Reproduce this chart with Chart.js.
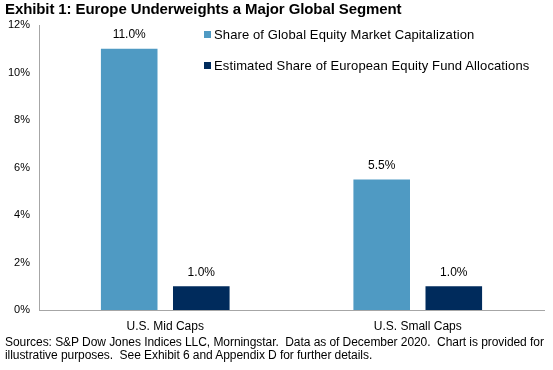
<!DOCTYPE html>
<html>
<head>
<meta charset="utf-8">
<script src="https://cdn.jsdelivr.net/npm/chart.js"></script>
<style>
  body { margin: 0; background: #fff; }
  #wrap { position: relative; width: 553px; height: 370px; font-family: "Liberation Sans", Arial, sans-serif; color: #000; }
  #chart { position: absolute; left: 0; top: 0; }
  .title { position: absolute; left: 5px; top: 0; font-weight: bold; font-size: 15px; line-height: 18px; letter-spacing: -0.1px; white-space: nowrap; }
  .legend { position: absolute; left: 204px; font-size: 13px; line-height: 14px; letter-spacing: 0.12px; white-space: nowrap; }
  .legend span { display: inline-block; width: 7px; height: 7px; margin-right: 3px; vertical-align: 1px; }
  .note { position: absolute; left: 5px; top: 336px; font-size: 12px; line-height: 13px; letter-spacing: -0.06px; white-space: pre; }
</style>
</head>
<body>
<div id="wrap">
  <canvas id="chart" width="553" height="370"></canvas>
  <div class="title">Exhibit 1: Europe Underweights a Major Global Segment</div>
  <div class="legend" id="leg"></div>
  <div class="note">Sources: S&amp;P Dow Jones Indices LLC, Morningstar.  Data as of December 2020.  Chart is provided for
illustrative purposes.  See Exhibit 6 and Appendix D for further details.</div>
</div>
<script>
// data
const categories = ['U.S. Mid Caps', 'U.S. Small Caps'];
const seriesNames = ['Share of Global Equity Market Capitalization', 'Estimated Share of European Equity Fund Allocations'];
const globalShare = [11.0, 5.5];
const europeShare = [1.0, 1.0];
const yTicks = [0, 2, 4, 6, 8, 10, 12];

const colors = ['#4f9ac3', '#002b5c'];

// legend, inside the plot
const leg = document.getElementById('leg');
const legTops = [28, 59];
seriesNames.forEach(function(name, i) {
  const d = document.createElement('div');
  d.style.position = 'absolute';
  d.style.top = legTops[i] + 'px';
  d.innerHTML = '<span style="background:' + colors[i] + '"></span>' + name;
  leg.appendChild(d);
});

// value labels above bars
const barLabels = {
  id: 'barLabels',
  afterDatasetsDraw(chart) {
    const ctx = chart.ctx;
    ctx.save();
    ctx.font = '12px "Liberation Sans", Arial, sans-serif';
    ctx.fillStyle = '#000';
    ctx.textAlign = 'center';
    ctx.textBaseline = 'middle';
    chart.data.datasets.forEach(function(ds, i) {
      chart.getDatasetMeta(i).data.forEach(function(bar, j) {
        ctx.fillText(ds.data[j].toFixed(1) + '%', bar.x, bar.y - 14);
      });
    });
    ctx.restore();
  }
};

new Chart(document.getElementById('chart'), {
  type: 'bar',
  data: {
    labels: categories,
    datasets: [
      { label: seriesNames[0], data: globalShare, backgroundColor: colors[0] },
      { label: seriesNames[1], data: europeShare, backgroundColor: colors[1] }
    ]
  },
  options: {
    responsive: false,
    animation: false,
    devicePixelRatio: 1,
    categoryPercentage: 0.571,
    barPercentage: 0.785,
    layout: { padding: { left: 0, top: 25, right: 9, bottom: 30 } },
    plugins: {
      legend: { display: false },
      tooltip: { enabled: false }
    },
    scales: {
      x: {
        grid: { display: false },
        border: { display: true, color: '#a6a6a6', width: 1 },
        ticks: { color: '#000', font: { family: '"Liberation Sans", Arial, sans-serif', size: 12 }, padding: 1 },
        afterFit(scale) { scale.height = 30; }
      },
      y: {
        min: 0,
        max: 12,
        grid: { display: false },
        border: { display: true, color: '#a6a6a6', width: 1 },
        afterBuildTicks(scale) { scale.ticks = yTicks.map(v => ({ value: v })); },
        ticks: {
          color: '#000',
          padding: 1,
          font: { family: '"Liberation Sans", Arial, sans-serif', size: 11 },
          callback: v => v + '%'
        },
        afterFit(scale) { scale.width = 39; }
      }
    }
  },
  plugins: [barLabels]
});
</script>
</body>
</html>
